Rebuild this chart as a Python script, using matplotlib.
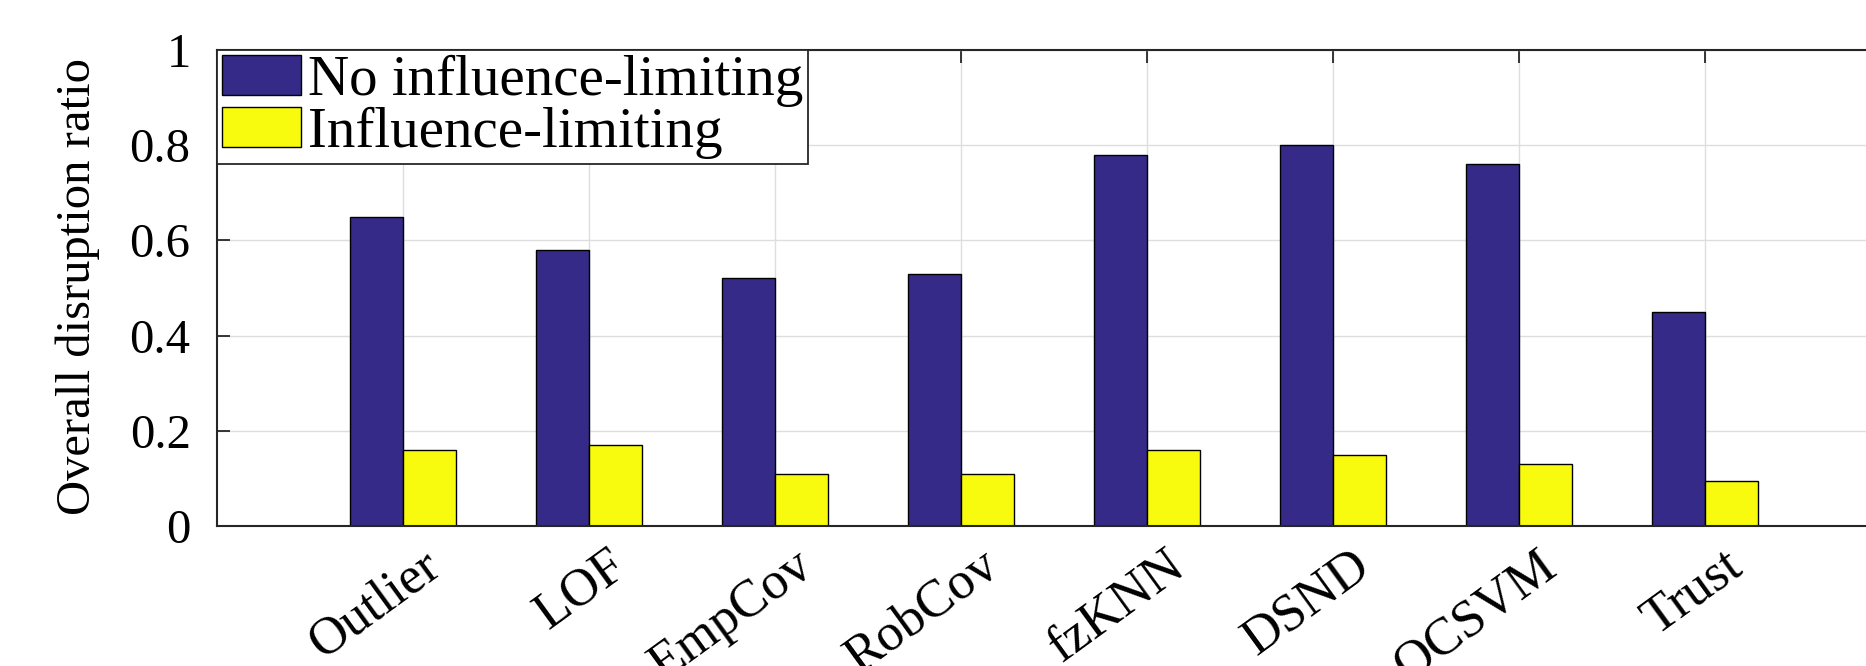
import numpy as np
import matplotlib.pyplot as plt
from matplotlib.transforms import ScaledTranslation

plt.rcParams['font.family'] = ['Liberation Serif', 'DejaVu Serif']

methods = ['Outlier', 'LOF', 'EmpCov', 'RobCov', 'fzKNN', 'DSND', 'OCSVM', 'Trust']
no_limit = [0.65, 0.58, 0.52, 0.53, 0.78, 0.80, 0.76, 0.45]
with_limit = [0.16, 0.17, 0.11, 0.11, 0.16, 0.15, 0.13, 0.095]
series_names = ['No influence-limiting', 'Influence-limiting']

c_blue = '#352a87'
c_yellow = '#f9fb0e'
axcol = '#262626'

fig = plt.figure(figsize=(18.66, 6.66), dpi=100)
# axes runs past the right edge of the figure (x from 0 to 9)
ax = fig.add_axes([217/1866, 140/666, 1674/1866, 476/666])

x = np.arange(1, len(methods) + 1)
w = 2 / 3.5 / 2   # matlab-style grouped bar width
ax.bar(x - w/2, no_limit, w, color=c_blue, edgecolor='black', linewidth=1, label=series_names[0])
ax.bar(x + w/2, with_limit, w, color=c_yellow, edgecolor='black', linewidth=1, label=series_names[1])

ax.set_xlim(0, 9)
ax.set_ylim(0, 1)
ax.set_xticks(x)
ax.set_xticklabels(methods, rotation=36, ha='right', va='top', rotation_mode='anchor', fontsize=38)
ax.set_yticks(np.arange(0, 1.01, 0.2))
ax.set_yticklabels(['0', '0.2', '0.4', '0.6', '0.8', '1'], fontsize=35)

ax.tick_params(axis='x', direction='in', top=True, bottom=True, length=9, width=1.3, color=axcol, pad=11)
ax.tick_params(axis='y', direction='in', left=True, right=True, length=9, width=1.3, color=axcol, pad=19)

# nudge the slanted labels to the right (after tick_params, which resets transforms)
off = ScaledTranslation(18/100, 0, fig.dpi_scale_trans)
for lab in ax.get_xticklabels():
    lab.set_transform(lab.get_transform() + off)

ax.set_axisbelow(True)
ax.grid(True, color='#dedede', linewidth=1)
for s in ax.spines.values():
    s.set_color(axcol)
    s.set_linewidth(1.5)

ax.set_ylabel('Overall disruption ratio', fontsize=35)
ax.yaxis.set_label_coords(-0.070, 0.504)

leg = ax.legend(loc='upper left', bbox_to_anchor=(0, 1), borderaxespad=0, fontsize=41,
                fancybox=False, edgecolor=axcol, framealpha=1, handlelength=1.4,
                handleheight=0.7, handletextpad=0.12, labelspacing=0.0, borderpad=0.08)
leg.get_frame().set_linewidth(1.3)

fig.savefig('out.png', dpi=100)
